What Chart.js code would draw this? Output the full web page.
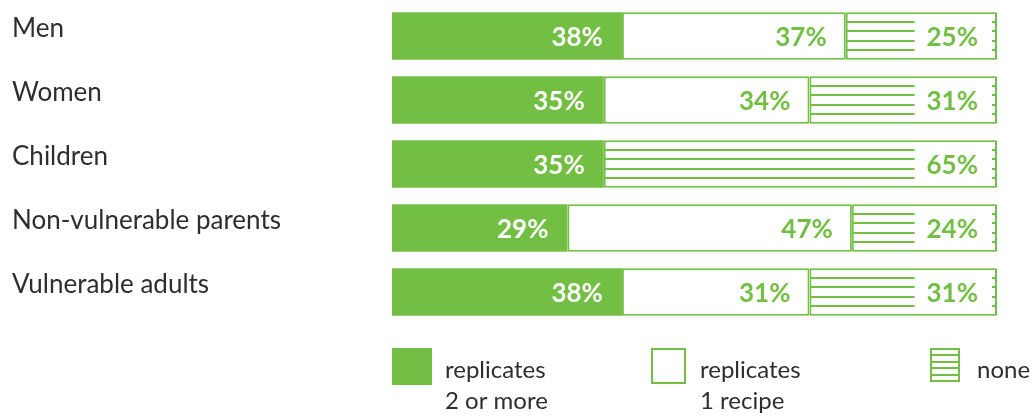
<!DOCTYPE html>
<html>
<head>
<meta charset="utf-8">
<script src="https://cdn.jsdelivr.net/npm/chart.js@4"></script>
<style>
  html, body { margin: 0; padding: 0; background: #fff; }
  #wrap { width: 1034px; height: 419px; position: relative; }
</style>
</head>
<body>
<div id="wrap"><canvas id="recipeChart"></canvas></div>
<script>
const categories = ['Men', 'Women', 'Children', 'Non-vulnerable parents', 'Vulnerable adults'];
const twoOrMore = [38, 35, 35, 29, 38];
const oneRecipe = [37, 34, 0, 47, 31];
const noRecipe = [25, 31, 65, 24, 31];
const legendLabels = [['replicates', '2 or more'], ['replicates', '1 recipe'], ['none']];

const GREEN = '#72bf44';
const TEXT = '#2e2e2e';
const FONT = 'Lato, "Open Sans", sans-serif';

function hatch(ctx, left, top, right, bottom) {
  ctx.save();
  ctx.strokeStyle = GREEN;
  ctx.lineWidth = 2;
  const h = bottom - top;
  for (let k = 1; k <= 4; k++) {
    const yy = Math.round(top + h * k / 5) + 0.0;
    ctx.beginPath();
    ctx.moveTo(left, yy);
    ctx.lineTo(right, yy);
    ctx.stroke();
  }
  ctx.restore();
}

const extras = {
  id: 'extras',
  afterDatasetsDraw(chart) {
    const ctx = chart.ctx;
    const yScale = chart.scales.y;
    const area = chart.chartArea;

    // horizontal lines inside the "none" bars
    chart.getDatasetMeta(2).data.forEach(bar => {
      const p = bar.getProps(['x', 'y', 'base', 'height'], true);
      if (p.x - p.base < 1) return;
      hatch(ctx, p.base + 1, p.y - p.height / 2, p.x - 1, p.y + p.height / 2);
    });

    // percentage labels, right aligned inside each segment
    ctx.save();
    ctx.font = 'bold 26px ' + FONT;
    ctx.textAlign = 'right';
    ctx.textBaseline = 'alphabetic';
    chart.data.datasets.forEach((ds, di) => {
      chart.getDatasetMeta(di).data.forEach((bar, i) => {
        const v = ds.data[i];
        if (!v) return;
        const p = bar.getProps(['x', 'y', 'height'], true);
        const txt = v + '%';
        const right = p.x - 19;
        if (di === 2) {
          const w = ctx.measureText(txt).width;
          ctx.fillStyle = '#fff';
          ctx.fillRect(right - w - 12, p.y - p.height / 2 + 2, w + 26, p.height - 4);
        }
        ctx.fillStyle = di === 0 ? '#fff' : GREEN;
        ctx.fillText(txt, right, p.y + 10);
      });
    });
    ctx.restore();

    // category names on the left
    ctx.save();
    ctx.font = '26px ' + FONT;
    ctx.fillStyle = TEXT;
    ctx.textAlign = 'left';
    ctx.textBaseline = 'alphabetic';
    categories.forEach((c, i) => {
      ctx.fillText(c, 12, yScale.getPixelForValue(i) + 1);
    });
    ctx.restore();

    // legend under the bars
    const top = area.bottom + 24;
    const items = [
      { dx: 0, w: 40, h: 37, tx: 53 },
      { dx: 259, w: 35, h: 36, tx: 49 },
      { dx: 538, w: 30, h: 34, tx: 47 }
    ];
    ctx.save();
    items.forEach((it, k) => {
      const x = area.left + it.dx;
      if (k === 0) {
        ctx.fillStyle = GREEN;
        ctx.fillRect(x, top, it.w, it.h);
      } else {
        ctx.strokeStyle = GREEN;
        ctx.lineWidth = 2;
        ctx.strokeRect(x + 1, top + 1, it.w - 2, it.h - 2);
        if (k === 2) hatch(ctx, x + 1, top + 1, x + it.w - 1, top + it.h - 1);
      }
      ctx.font = '24px ' + FONT;
      ctx.fillStyle = TEXT;
      ctx.textAlign = 'left';
      legendLabels[k].forEach((line, j) => {
        ctx.fillText(line, x + it.tx, top + 30 + j * 31);
      });
    });
    ctx.restore();
  }
};

new Chart(document.getElementById('recipeChart'), {
  type: 'bar',
  data: {
    labels: categories,
    datasets: [
      {
        label: legendLabels[0].join(' '),
        data: twoOrMore,
        backgroundColor: GREEN,
        borderWidth: 0
      },
      {
        label: legendLabels[1].join(' '),
        data: oneRecipe,
        backgroundColor: '#fff',
        borderColor: GREEN,
        borderWidth: 2,
        borderSkipped: false
      },
      {
        label: legendLabels[2].join(' '),
        data: noRecipe,
        backgroundColor: '#fff',
        borderColor: GREEN,
        borderWidth: 2,
        borderSkipped: false
      }
    ]
  },
  options: {
    indexAxis: 'y',
    responsive: true,
    maintainAspectRatio: false,
    animation: false,
    datasets: {
      bar: { barPercentage: 1, categoryPercentage: 0.74 }
    },
    layout: {
      padding: { left: 392, right: 37, top: 4, bottom: 95 }
    },
    scales: {
      x: { stacked: true, min: 0, max: 100, display: false },
      y: { stacked: true, display: false }
    },
    plugins: {
      legend: { display: false },
      tooltip: { enabled: false }
    }
  },
  plugins: [extras]
});
</script>
</body>
</html>
